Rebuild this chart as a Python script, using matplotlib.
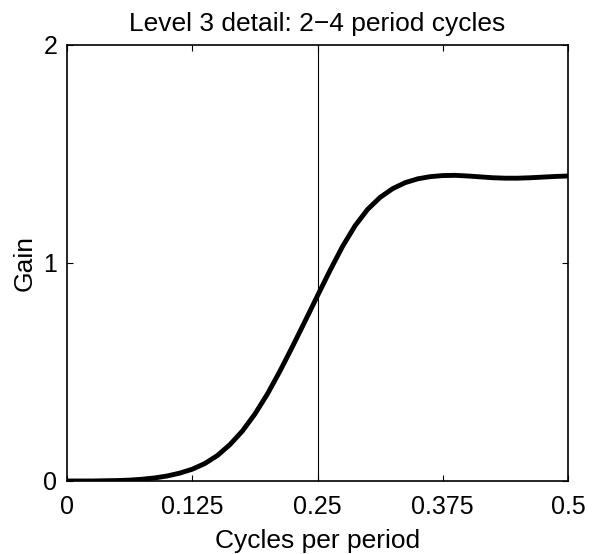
import matplotlib
matplotlib.use('Agg')
import matplotlib.pyplot as plt

# gain
freq = [0.0, 0.0125, 0.025, 0.0375, 0.05, 0.0625, 0.075, 0.0875, 0.1, 0.1125,
        0.125, 0.1375, 0.15, 0.1625, 0.175, 0.1875, 0.2, 0.2125, 0.225, 0.2375,
        0.25, 0.2625, 0.275, 0.2875, 0.3, 0.3125, 0.325, 0.3375, 0.35, 0.3625,
        0.375, 0.3875, 0.4, 0.4125, 0.425, 0.4375, 0.45, 0.4625, 0.475, 0.4875, 0.5]
gain = [0.0, 0.0, 0.0, 0.001, 0.002, 0.004, 0.008, 0.014, 0.023, 0.036,
        0.054, 0.08, 0.1165, 0.1665, 0.229, 0.307, 0.399, 0.504, 0.6165, 0.7325,
        0.85, 0.966, 1.076, 1.171, 1.246, 1.301, 1.341, 1.3685, 1.386, 1.396,
        1.401, 1.402, 1.399, 1.395, 1.391, 1.389, 1.389, 1.391, 1.394, 1.397, 1.399]
xticks = [0, 0.125, 0.25, 0.375, 0.5]
xticklabels = ['0', '0.125', '0.25', '0.375', '0.5']
yticks = [0, 1, 2]
marker_x = 0.25

plt.rcParams['font.family'] = ['Liberation Sans', 'DejaVu Sans']

fig = plt.figure(figsize=(5.92, 5.54), dpi=100)
ax = fig.add_axes([0.1132, 0.1318, 0.8463, 0.787])

ax.plot(freq, gain, color='black', linewidth=3.5, solid_joinstyle='round')
ax.axvline(marker_x, color='black', linewidth=0.8)

ax.set_xlim(0, 0.5)
ax.set_ylim(0, 2)
ax.set_xticks(xticks)
ax.set_xticklabels(xticklabels)
ax.set_yticks(yticks)
ax.tick_params(direction='in', length=4, width=0.8, top=True, right=True,
               labelsize=18)
ax.tick_params(axis='x', pad=10)
ax.tick_params(axis='y', pad=7)
for sp in ax.spines.values():
    sp.set_linewidth(1.2)

ax.set_xlabel('Cycles per period', fontsize=19, labelpad=7)
ax.set_ylabel('Gain', fontsize=19, labelpad=5)
ax.set_title('Level 3 detail: 2\u22124 period cycles', fontsize=19, pad=10)

fig.savefig('out.png', dpi=100)
